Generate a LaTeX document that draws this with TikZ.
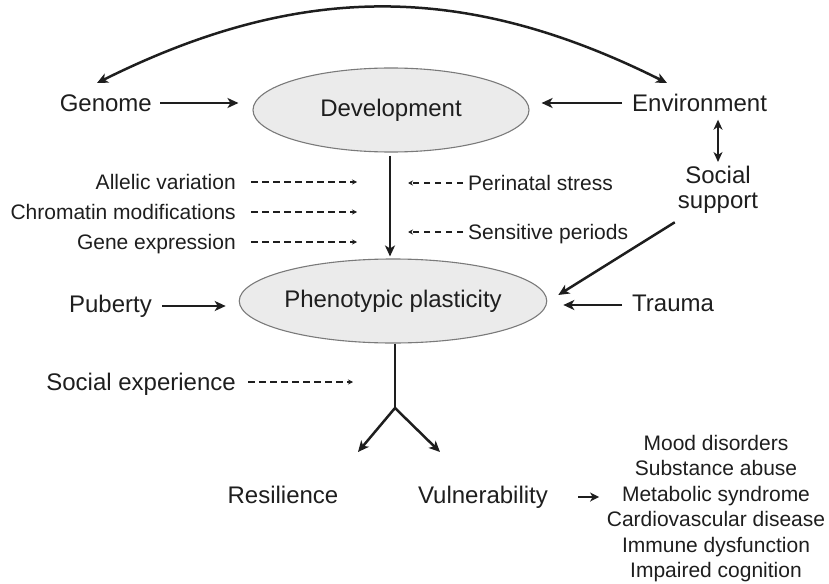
\documentclass[tikz,border=0pt]{standalone}
\usepackage{fontspec}
\setmainfont{Liberation Sans}
\usetikzlibrary{arrows.meta,shapes.geometric}
\definecolor{ink}{HTML}{1E1E1E}
\definecolor{blobfill}{HTML}{EBEBEB}
\definecolor{blobline}{HTML}{7A7A7A}
\tikzset{
  big/.style={inner sep=0pt, text=ink, font=\fontsize{24}{28}\selectfont, text height=17pt, text depth=0pt},
  small/.style={inner sep=0pt, text=ink, font=\fontsize{21}{25}\selectfont, text height=15pt, text depth=0pt},
  blob/.style={ellipse, draw=blobline, line width=1.1pt, fill=blobfill, minimum width=276pt, minimum height=84pt,
    inner sep=0pt, text=ink, font=\fontsize{24}{28}\selectfont},
  tip/.style={Stealth[length=11pt,width=10pt,inset=3pt]},
  arr/.style={draw=ink, line width=2.5pt, -{Stealth[length=11pt,width=10pt,inset=3pt]}},
  dblarr/.style={draw=ink, line width=2.5pt, {Stealth[length=10pt,width=9pt,inset=3pt]}-{Stealth[length=10pt,width=9pt,inset=3pt]}},
  dasharr/.style={draw=ink, line width=1.4pt, dash pattern=on 6.5pt off 4.5pt, -{Stealth[length=5pt,width=5pt]}},
}
\begin{document}
\begin{tikzpicture}[x=1pt,y=-1pt]
\useasboundingbox (0,0) rectangle (829,583);

% the two ellipses
\node[blob] (dev) at (391,110) {Development};
\node[blob] (phen) at (393,301) {Phenotypic plasticity};

% top row
\node[big, anchor=east] (genome) at (152,103) {Genome};
\node[big, anchor=west] (env) at (632,103) {Environment};
\coordinate (gtip) at (97,83);
\coordinate (etip) at (667,83);
\draw[draw=ink, line width=2.5pt, {Stealth[length=11pt,width=10pt,inset=3pt]}-{Stealth[length=11pt,width=10pt,inset=3pt]}]
  (gtip) .. controls (300,-18) and (465,-18) .. (etip);
\draw[arr] ([xshift=8pt]genome.east) -- ([xshift=-14pt]genome.east -| dev.west);
\draw[arr] ([xshift=-10pt]env.west) -- ([xshift=12pt]env.west -| dev.east);

% social support
\node[inner sep=0pt, text=ink, font=\fontsize{24}{24.5}\selectfont, align=center, anchor=north] (social) at (718,166) {Social\\support};
\draw[dblarr] ([yshift=-8pt]social.north |- env.south) -- ([yshift=4pt]social.north);
\draw[arr] ([xshift=-3pt,yshift=-9pt]social.south west) -- ([xshift=11pt,yshift=6pt]phen.east);

% developmental influences
\coordinate (axis) at (390,0);
\node[small, anchor=east] (allelic) at (236,182) {Allelic variation};
\node[small, anchor=east] (chromatin) at (236,212) {Chromatin modifications};
\node[small, anchor=east] (geneexp) at (236,242) {Gene expression};
\node[small, anchor=west] (perinatal) at (468,183) {Perinatal stress};
\node[small, anchor=west] (sensitive) at (468,232) {Sensitive periods};
\foreach \n in {allelic,chromatin,geneexp}
  \draw[dasharr] ([xshift=15pt]\n.east) -- ([xshift=-33pt]\n.east -| axis);
\foreach \n in {perinatal,sensitive}
  \draw[dasharr] ([xshift=-5pt]\n.west) -- ([xshift=18pt]\n.west -| axis);
\draw[arr] ([yshift=-3pt]dev.south -| axis) -- ([yshift=2pt]phen.north -| axis);

% middle row
\node[big, anchor=east] (puberty) at (152,304) {Puberty};
\node[big, anchor=west] (trauma) at (632,303) {Trauma};
\draw[arr] ([xshift=10pt,yshift=-2pt]puberty.east) -- ([xshift=-13pt,yshift=-2pt]puberty.east -| phen.west);
\draw[arr] ([xshift=-10pt,yshift=-2pt]trauma.west) -- ([xshift=16pt,yshift=-2pt]trauma.west -| phen.east);

% outcome branch
\node[big, anchor=east] (socexp) at (236,382) {Social experience};
\coordinate (fork) at (395,408);
\coordinate (rtip) at (358,452);
\coordinate (vtip) at (440,452);
\draw[dasharr] ([xshift=12pt]socexp.east) -- ([xshift=-42pt]socexp.east -| fork);
\draw[draw=ink, line width=2.5pt] (phen.south -| fork) -- (fork);
\draw[arr] (fork) -- (rtip);
\draw[arr] (fork) -- (vtip);
\node[big] (resil) at (283,495) {Resilience};
\node[big] (vuln) at (483,495) {Vulnerability};
\node[inner sep=0pt, text=ink, font=\fontsize{21}{25.4}\selectfont, align=center, anchor=north] (outcomes) at (716,435)
  {Mood disorders\\Substance abuse\\Metabolic syndrome\\Cardiovascular disease\\Immune dysfunction\\Impaired cognition};
\draw[draw=ink, line width=2.2pt, -{Stealth[length=9pt,width=9pt,inset=2.5pt]}] ([xshift=30pt,yshift=-2pt]vuln.east) -- ([xshift=51pt,yshift=-2pt]vuln.east);
\end{tikzpicture}
\end{document}
